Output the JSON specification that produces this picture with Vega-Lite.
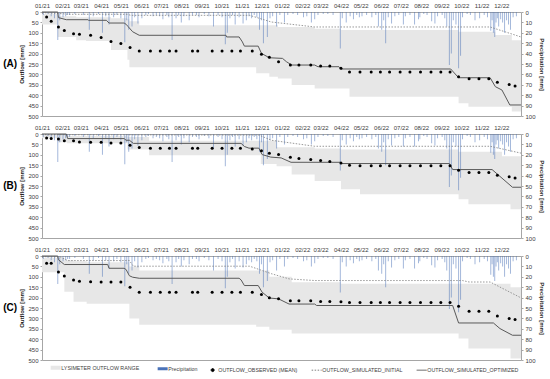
{
"$schema": "https://vega.github.io/schema/vega-lite/v6.json",
"padding": {"left": 2, "top": 1, "right": 0, "bottom": 0},
"spacing": 3,
"datasets": {
"precip": [
{"date":"2021-01-03","p":3},{"date":"2021-01-10","p":2},{"date":"2021-01-15","p":4},{"date":"2021-01-20","p":6},{"date":"2021-01-25","p":27},{"date":"2021-01-28","p":8},
{"date":"2021-02-02","p":5},{"date":"2021-02-06","p":4},{"date":"2021-02-09","p":3},{"date":"2021-02-12","p":3},{"date":"2021-02-20","p":2},
{"date":"2021-03-05","p":3},{"date":"2021-03-14","p":17},{"date":"2021-03-20","p":4},{"date":"2021-03-28","p":2},
{"date":"2021-04-03","p":20},{"date":"2021-04-08","p":4},{"date":"2021-04-13","p":12},{"date":"2021-04-20","p":5},{"date":"2021-04-25","p":3},
{"date":"2021-05-01","p":6},{"date":"2021-05-07","p":29},{"date":"2021-05-10","p":8},{"date":"2021-05-13","p":17},{"date":"2021-05-18","p":14},{"date":"2021-05-22","p":5},{"date":"2021-05-27","p":11},
{"date":"2021-06-02","p":6},{"date":"2021-06-08","p":3},{"date":"2021-06-12","p":2},{"date":"2021-06-19","p":4},{"date":"2021-06-24","p":3},{"date":"2021-06-29","p":4},
{"date":"2021-07-04","p":7},{"date":"2021-07-10","p":3},{"date":"2021-07-13","p":5},{"date":"2021-07-18","p":27},{"date":"2021-07-24","p":6},{"date":"2021-07-28","p":3},
{"date":"2021-08-01","p":10},{"date":"2021-08-05","p":4},{"date":"2021-08-13","p":8},{"date":"2021-08-18","p":3},{"date":"2021-08-24","p":3},{"date":"2021-08-28","p":5},
{"date":"2021-09-05","p":2},{"date":"2021-09-12","p":4},{"date":"2021-09-19","p":14},{"date":"2021-09-26","p":3},
{"date":"2021-10-02","p":5},{"date":"2021-10-07","p":31},{"date":"2021-10-10","p":20},{"date":"2021-10-14","p":6},{"date":"2021-10-18","p":3},{"date":"2021-10-22","p":12},{"date":"2021-10-28","p":5},
{"date":"2021-11-03","p":11},{"date":"2021-11-08","p":8},{"date":"2021-11-12","p":4},{"date":"2021-11-16","p":6},{"date":"2021-11-20","p":3},{"date":"2021-11-24","p":5},{"date":"2021-11-28","p":17},
{"date":"2021-12-01","p":8},{"date":"2021-12-04","p":30},{"date":"2021-12-10","p":24},{"date":"2021-12-14","p":6},{"date":"2021-12-18","p":4},{"date":"2021-12-24","p":14},{"date":"2021-12-29","p":3},
{"date":"2022-01-05","p":10},{"date":"2022-01-10","p":3},{"date":"2022-01-18","p":2},{"date":"2022-01-25","p":3},
{"date":"2022-02-03","p":5},{"date":"2022-02-08","p":4},{"date":"2022-02-15","p":10},{"date":"2022-02-20","p":7},{"date":"2022-02-25","p":3},
{"date":"2022-03-05","p":2},{"date":"2022-03-12","p":2},{"date":"2022-03-20","p":3},{"date":"2022-03-31","p":35},
{"date":"2022-04-03","p":6},{"date":"2022-04-09","p":10},{"date":"2022-04-15","p":4},{"date":"2022-04-20","p":7},{"date":"2022-04-25","p":3},{"date":"2022-04-29","p":5},
{"date":"2022-05-03","p":4},{"date":"2022-05-10","p":3},{"date":"2022-05-18","p":5},{"date":"2022-05-24","p":3},{"date":"2022-05-28","p":14},
{"date":"2022-06-02","p":17},{"date":"2022-06-05","p":8},{"date":"2022-06-08","p":30},{"date":"2022-06-12","p":5},{"date":"2022-06-17","p":11},{"date":"2022-06-22","p":4},{"date":"2022-06-28","p":3},
{"date":"2022-07-05","p":12},{"date":"2022-07-08","p":4},{"date":"2022-07-15","p":3},{"date":"2022-07-22","p":12},{"date":"2022-07-28","p":7},{"date":"2022-07-30","p":5},
{"date":"2022-08-05","p":2},{"date":"2022-08-10","p":3},{"date":"2022-08-17","p":9},{"date":"2022-08-22","p":11},{"date":"2022-08-26","p":4},
{"date":"2022-09-02","p":3},{"date":"2022-09-06","p":6},{"date":"2022-09-09","p":14},{"date":"2022-09-13","p":51},{"date":"2022-09-16","p":40},{"date":"2022-09-19","p":8},{"date":"2022-09-23","p":12},{"date":"2022-09-27","p":54},{"date":"2022-09-30","p":42},
{"date":"2022-10-03","p":5},{"date":"2022-10-10","p":2},{"date":"2022-10-15","p":3},{"date":"2022-10-22","p":8},{"date":"2022-10-29","p":6},
{"date":"2022-11-05","p":3},{"date":"2022-11-10","p":5},{"date":"2022-11-15","p":18},{"date":"2022-11-17","p":8},{"date":"2022-11-19","p":20},{"date":"2022-11-21","p":24},{"date":"2022-11-23","p":10},{"date":"2022-11-25","p":6},{"date":"2022-11-27","p":14},{"date":"2022-11-30","p":7},
{"date":"2022-12-03","p":10},{"date":"2022-12-06","p":20},{"date":"2022-12-09","p":8},{"date":"2022-12-12","p":12},{"date":"2022-12-15","p":17},{"date":"2022-12-19","p":5},{"date":"2022-12-24","p":4}
],
"obs": [
{"date":"2021-01-08","A":24,"B":19,"C":35},{"date":"2021-01-15","A":45,"B":22,"C":35},{"date":"2021-01-26","A":72,"B":24,"C":77},{"date":"2021-02-04","A":89,"B":32,"C":96},
{"date":"2021-02-18","A":105,"B":33,"C":115},{"date":"2021-02-27","A":107,"B":38,"C":121},{"date":"2021-03-16","A":112,"B":40,"C":124},{"date":"2021-04-01","A":123,"B":40,"C":125},
{"date":"2021-04-16","A":142,"B":43,"C":125},{"date":"2021-05-01","A":152,"B":43,"C":125},{"date":"2021-05-15","A":171,"B":54,"C":150},{"date":"2021-05-29","A":187,"B":65,"C":174},
{"date":"2021-06-15","A":187,"B":69,"C":174},{"date":"2021-06-30","A":187,"B":69,"C":174},{"date":"2021-07-14","A":187,"B":69,"C":174},{"date":"2021-07-24","A":187,"B":69,"C":174},
{"date":"2021-08-18","A":187,"B":69,"C":174},{"date":"2021-08-26","A":187,"B":69,"C":174},{"date":"2021-09-17","A":187,"B":69,"C":174},{"date":"2021-10-02","A":187,"B":69,"C":174},
{"date":"2021-10-17","A":187,"B":69,"C":174},{"date":"2021-10-30","A":187,"B":69,"C":174},{"date":"2021-11-17","A":187,"B":72,"C":174},{"date":"2021-12-01","A":203,"B":81,"C":185},
{"date":"2021-12-13","A":217,"B":92,"C":201},{"date":"2021-12-27","A":239,"B":99,"C":206},{"date":"2022-01-14","A":255,"B":112,"C":215},{"date":"2022-01-27","A":255,"B":118,"C":215},
{"date":"2022-02-14","A":255,"B":123,"C":215},{"date":"2022-03-01","A":260,"B":128,"C":219},{"date":"2022-03-15","A":260,"B":132,"C":219},{"date":"2022-04-01","A":271,"B":140,"C":220},
{"date":"2022-04-14","A":289,"B":150,"C":223},{"date":"2022-04-30","A":289,"B":153,"C":223},{"date":"2022-05-17","A":289,"B":153,"C":223},{"date":"2022-05-31","A":289,"B":153,"C":223},
{"date":"2022-06-14","A":289,"B":153,"C":223},{"date":"2022-06-30","A":289,"B":153,"C":223},{"date":"2022-07-15","A":289,"B":153,"C":223},{"date":"2022-07-31","A":289,"B":153,"C":223},
{"date":"2022-08-16","A":289,"B":153,"C":223},{"date":"2022-08-31","A":289,"B":153,"C":223},{"date":"2022-09-14","A":289,"B":153,"C":223},{"date":"2022-09-27","A":311,"B":174,"C":241},
{"date":"2022-10-13","A":321,"B":185,"C":266},{"date":"2022-10-28","A":321,"B":185,"C":266},{"date":"2022-11-12","A":321,"B":185,"C":266},{"date":"2022-11-25","A":338,"B":198,"C":289},
{"date":"2022-12-13","A":348,"B":206,"C":301},{"date":"2022-12-22","A":356,"B":211,"C":305}
],
"bandA": [
{"date":"2021-01-01","lo":10,"hi":60},{"date":"2021-01-25","lo":20,"hi":120},{"date":"2021-02-22","lo":25,"hi":136},{"date":"2021-03-09","lo":25,"hi":140},
{"date":"2021-04-16","lo":30,"hi":183},{"date":"2021-05-11","lo":35,"hi":230},{"date":"2021-05-14","lo":45,"hi":266},{"date":"2021-05-29","lo":64,"hi":266},
{"date":"2021-11-23","lo":64,"hi":295},{"date":"2021-12-13","lo":64,"hi":311},{"date":"2021-12-26","lo":72,"hi":320},{"date":"2022-01-16","lo":72,"hi":351},
{"date":"2022-02-20","lo":80,"hi":368},{"date":"2022-04-01","lo":87,"hi":368},{"date":"2022-04-14","lo":87,"hi":407},{"date":"2022-09-27","lo":95,"hi":439},
{"date":"2022-10-12","lo":95,"hi":455},{"date":"2022-11-22","lo":110,"hi":455},{"date":"2022-12-17","lo":136,"hi":478},{"date":"2022-12-31","lo":136,"hi":478}
],
"bandB": [
{"date":"2021-01-01","lo":0,"hi":20},{"date":"2021-01-25","lo":5,"hi":40},{"date":"2021-02-08","lo":10,"hi":45},{"date":"2021-05-11","lo":15,"hi":75},
{"date":"2021-06-13","lo":32,"hi":102},{"date":"2021-11-30","lo":32,"hi":144},{"date":"2021-12-24","lo":64,"hi":155},{"date":"2022-01-16","lo":64,"hi":195},
{"date":"2022-02-20","lo":70,"hi":226},{"date":"2022-04-01","lo":75,"hi":266},{"date":"2022-04-30","lo":75,"hi":290},{"date":"2022-09-27","lo":85,"hi":314},
{"date":"2022-10-12","lo":85,"hi":338},{"date":"2022-12-02","lo":107,"hi":338},{"date":"2022-12-15","lo":107,"hi":362},{"date":"2022-12-31","lo":107,"hi":362}
],
"bandC": [
{"date":"2021-01-01","lo":10,"hi":78},{"date":"2021-02-04","lo":20,"hi":172},{"date":"2021-02-18","lo":25,"hi":220},{"date":"2021-03-10","lo":30,"hi":230},{"date":"2021-05-14","lo":50,"hi":300},
{"date":"2021-05-29","lo":70,"hi":330},{"date":"2021-11-23","lo":70,"hi":340},{"date":"2021-12-13","lo":100,"hi":355},{"date":"2022-01-16","lo":126,"hi":373},
{"date":"2022-04-01","lo":134,"hi":373},{"date":"2022-09-27","lo":134,"hi":397},{"date":"2022-10-12","lo":134,"hi":445},{"date":"2022-12-15","lo":150,"hi":493},{"date":"2022-12-31","lo":150,"hi":493}
],
"optA": [
{"date":"2021-01-01","v":0},{"date":"2021-01-25","v":0},{"date":"2021-01-26","v":27},{"date":"2021-02-07","v":37},{"date":"2021-03-12","v":37},{"date":"2021-03-13","v":40},
{"date":"2021-04-09","v":40},{"date":"2021-04-13","v":53},{"date":"2021-05-06","v":53},{"date":"2021-05-09","v":59},{"date":"2021-05-12","v":70},{"date":"2021-05-19","v":95},
{"date":"2021-05-29","v":112},{"date":"2021-10-08","v":112},{"date":"2021-10-09","v":120},{"date":"2021-10-28","v":120},{"date":"2021-11-02","v":144},{"date":"2021-11-05","v":164},
{"date":"2021-11-26","v":164},{"date":"2021-12-01","v":199},{"date":"2021-12-13","v":220},{"date":"2022-01-02","v":223},{"date":"2022-01-08","v":239},{"date":"2022-01-16","v":255},
{"date":"2022-02-20","v":255},{"date":"2022-02-25","v":263},{"date":"2022-03-29","v":263},{"date":"2022-04-01","v":274},{"date":"2022-09-15","v":274},{"date":"2022-09-27","v":316},
{"date":"2022-11-14","v":316},{"date":"2022-11-22","v":359},{"date":"2022-12-02","v":375},{"date":"2022-12-14","v":447},{"date":"2022-12-31","v":447}
],
"iniA": [
{"date":"2021-01-01","v":3},{"date":"2021-01-31","v":8},{"date":"2021-02-10","v":11},{"date":"2021-05-11","v":11},{"date":"2021-05-16","v":16},{"date":"2021-11-13","v":16},
{"date":"2021-12-16","v":48},{"date":"2022-02-20","v":72},{"date":"2022-11-14","v":72},{"date":"2022-12-31","v":120}
],
"optB": [
{"date":"2021-01-01","v":0},{"date":"2021-02-07","v":0},{"date":"2021-02-09","v":22},{"date":"2021-05-06","v":22},{"date":"2021-05-09","v":30},{"date":"2021-05-14","v":30},
{"date":"2021-05-20","v":45},{"date":"2021-10-31","v":45},{"date":"2021-11-05","v":60},{"date":"2021-11-12","v":68},{"date":"2021-11-27","v":68},{"date":"2021-12-02","v":99},
{"date":"2021-12-15","v":111},{"date":"2021-12-31","v":115},{"date":"2022-01-15","v":136},{"date":"2022-03-30","v":136},{"date":"2022-04-01","v":142},{"date":"2022-09-13","v":142},
{"date":"2022-09-18","v":171},{"date":"2022-11-17","v":171},{"date":"2022-12-18","v":256},{"date":"2022-12-31","v":256}
],
"iniB": [
{"date":"2021-01-01","v":3},{"date":"2021-11-27","v":5},{"date":"2021-12-16","v":30},{"date":"2022-02-20","v":59},{"date":"2022-11-14","v":59},{"date":"2022-12-31","v":92}
],
"optC": [
{"date":"2021-01-01","v":0},{"date":"2021-01-25","v":0},{"date":"2021-01-26","v":18},{"date":"2021-02-04","v":41},{"date":"2021-04-11","v":41},{"date":"2021-04-13","v":59},
{"date":"2021-05-06","v":59},{"date":"2021-05-09","v":65},{"date":"2021-05-14","v":95},{"date":"2021-05-19","v":102},{"date":"2021-05-29","v":107},{"date":"2021-10-28","v":107},
{"date":"2021-10-31","v":115},{"date":"2021-11-05","v":142},{"date":"2021-11-26","v":142},{"date":"2021-12-02","v":174},{"date":"2021-12-13","v":202},{"date":"2021-12-27","v":206},
{"date":"2022-01-12","v":231},{"date":"2022-02-20","v":231},{"date":"2022-02-23","v":238},{"date":"2022-09-18","v":238},{"date":"2022-09-27","v":322},{"date":"2022-11-19","v":322},
{"date":"2022-11-29","v":349},{"date":"2022-12-18","v":381},{"date":"2022-12-31","v":381}
],
"iniC": [
{"date":"2021-01-01","v":3},{"date":"2021-01-29","v":5},{"date":"2021-02-09","v":22},{"date":"2021-05-14","v":22},{"date":"2021-05-20","v":49},{"date":"2021-11-13","v":49},
{"date":"2021-12-16","v":85},{"date":"2022-01-12","v":110},{"date":"2022-02-20","v":118},{"date":"2022-10-03","v":118},{"date":"2022-10-13","v":125},{"date":"2022-11-14","v":125},
{"date":"2022-12-29","v":198},{"date":"2022-12-31","v":198}
]
},
"vconcat": [
{
"width": 479, "height": 104,
"title": {"text": "(A)", "orient": "left", "angle": 0, "align": "right", "baseline": "middle", "fontSize": 10, "fontWeight": "bold", "anchor": "middle", "offset": -12, "color": "#000000"},
"encoding": {"x": {"field": "date", "type": "temporal", "scale": {"nice": false, "padding": 0, "domain": [{"year": 2021, "month": 1, "date": 1}, {"year": 2022, "month": 12, "date": 31}]}, "axis": {"orient": "top", "format": "%m/%y", "tickCount": {"interval": "month", "step": 1}, "title": null, "labelOverlap": false, "labelFlush": false, "ticks": false, "domain": false, "labelPadding": 4}}},
"layer": [
{"data": {"name": "bandA"}, "mark": {"type": "area", "interpolate": "step-after"},
 "encoding": {"y": {"field": "lo", "type": "quantitative", "scale": {"domain": [0, 500], "reverse": true}, "axis": {"values": [0,50,100,150,200,250,300,350,400,450,500], "title": "Outflow [mm]"}}, "y2": {"field": "hi"},
 "color": {"datum": "LYSIMETER OUTFLOW RANGE", "scale": {"domain": ["LYSIMETER OUTFLOW RANGE", "Precipitation", "OUTFLOW_OBSERVED (MEAN)", "OUTFLOW_SIMULATED_INITIAL", "OUTFLOW_SIMULATED_OPTIMIZED"], "range": ["#e7e7e7", "#4a72b8", "#000000", "#7f7f7f", "#595959"]},
  "legend": {"title": null, "orient": "none", "legendX": 11, "legendY": 353, "direction": "horizontal", "columns": 5, "columnPadding": 11, "labelFontSize": 5.3, "labelColor": "#404040", "labelOffset": 3,
   "encode": {"symbols": {"update": {
     "shape": {"signal": "datum.value === 'OUTFLOW_OBSERVED (MEAN)' ? 'circle' : 'stroke'"},
     "size": {"signal": "datum.value === 'OUTFLOW_OBSERVED (MEAN)' ? 9 : 100"},
     "stroke": {"signal": "datum.value === 'LYSIMETER OUTFLOW RANGE' ? '#e0e0e0' : datum.value === 'Precipitation' ? '#2f5597' : datum.value === 'OUTFLOW_OBSERVED (MEAN)' ? '#000000' : '#595959'"},
     "fill": {"signal": "datum.value === 'OUTFLOW_OBSERVED (MEAN)' ? '#000000' : 'transparent'"},
     "strokeWidth": {"signal": "datum.value === 'LYSIMETER OUTFLOW RANGE' ? 4 : datum.value === 'Precipitation' ? 3 : 1"},
     "strokeDash": {"signal": "datum.value === 'OUTFLOW_SIMULATED_INITIAL' ? [1.5,1.5] : [1,0]"},
     "opacity": {"value": 1}
   }}}}}}},
{"data": {"name": "precip"}, "mark": {"type": "bar", "width": 1, "opacity": 0.5},
 "encoding": {"y": {"field": "p", "type": "quantitative", "scale": {"domain": [0, 100], "reverse": true}, "axis": {"orient": "right", "values": [0,10,20,30,40,50,60,70,80,90,100], "title": "Precipitation [mm]"}}, "color": {"datum": "Precipitation"}}},
{"layer": [
 {"data": {"name": "iniA"}, "mark": {"type": "line", "strokeDash": [1.5, 1.5], "strokeWidth": 0.8}, "encoding": {"y": {"field": "v", "type": "quantitative", "scale": {"domain": [0, 500], "reverse": true}, "axis": null}, "color": {"datum": "OUTFLOW_SIMULATED_INITIAL"}}},
 {"data": {"name": "optA"}, "mark": {"type": "line", "strokeWidth": 1}, "encoding": {"y": {"field": "v", "type": "quantitative", "scale": {"domain": [0, 500], "reverse": true}, "axis": null}, "color": {"datum": "OUTFLOW_SIMULATED_OPTIMIZED"}}},
 {"data": {"name": "obs"}, "mark": {"type": "point", "filled": true, "size": 9, "opacity": 1}, "encoding": {"y": {"field": "A", "type": "quantitative", "scale": {"domain": [0, 500], "reverse": true}, "axis": null}, "color": {"datum": "OUTFLOW_OBSERVED (MEAN)"}}}
]}
],
"resolve": {"scale": {"y": "independent"}}
},
{
"width": 479, "height": 104,
"title": {"text": "(B)", "orient": "left", "angle": 0, "align": "right", "baseline": "middle", "fontSize": 10, "fontWeight": "bold", "anchor": "middle", "offset": -12, "color": "#000000"},
"encoding": {"x": {"field": "date", "type": "temporal", "scale": {"nice": false, "padding": 0, "domain": [{"year": 2021, "month": 1, "date": 1}, {"year": 2022, "month": 12, "date": 31}]}, "axis": {"orient": "top", "format": "%m/%y", "tickCount": {"interval": "month", "step": 1}, "title": null, "labelOverlap": false, "labelFlush": false, "ticks": false, "domain": false, "labelPadding": 4}}},
"layer": [
{"data": {"name": "bandB"}, "mark": {"type": "area", "interpolate": "step-after"},
 "encoding": {"y": {"field": "lo", "type": "quantitative", "scale": {"domain": [0, 500], "reverse": true}, "axis": {"values": [0,50,100,150,200,250,300,350,400,450,500], "title": "Outflow [mm]"}}, "y2": {"field": "hi"}, "color": {"datum": "LYSIMETER OUTFLOW RANGE"}}},
{"data": {"name": "precip"}, "mark": {"type": "bar", "width": 1, "opacity": 0.5},
 "encoding": {"y": {"field": "p", "type": "quantitative", "scale": {"domain": [0, 100], "reverse": true}, "axis": {"orient": "right", "values": [0,10,20,30,40,50,60,70,80,90,100], "title": "Precipitation [mm]"}}, "color": {"datum": "Precipitation"}}},
{"layer": [
 {"data": {"name": "iniB"}, "mark": {"type": "line", "strokeDash": [1.5, 1.5], "strokeWidth": 0.8}, "encoding": {"y": {"field": "v", "type": "quantitative", "scale": {"domain": [0, 500], "reverse": true}, "axis": null}, "color": {"datum": "OUTFLOW_SIMULATED_INITIAL"}}},
 {"data": {"name": "optB"}, "mark": {"type": "line", "strokeWidth": 1}, "encoding": {"y": {"field": "v", "type": "quantitative", "scale": {"domain": [0, 500], "reverse": true}, "axis": null}, "color": {"datum": "OUTFLOW_SIMULATED_OPTIMIZED"}}},
 {"data": {"name": "obs"}, "mark": {"type": "point", "filled": true, "size": 9, "opacity": 1}, "encoding": {"y": {"field": "B", "type": "quantitative", "scale": {"domain": [0, 500], "reverse": true}, "axis": null}, "color": {"datum": "OUTFLOW_OBSERVED (MEAN)"}}}
]}
],
"resolve": {"scale": {"y": "independent"}}
},
{
"width": 479, "height": 104,
"title": {"text": "(C)", "orient": "left", "angle": 0, "align": "right", "baseline": "middle", "fontSize": 10, "fontWeight": "bold", "anchor": "middle", "offset": -12, "color": "#000000"},
"encoding": {"x": {"field": "date", "type": "temporal", "scale": {"nice": false, "padding": 0, "domain": [{"year": 2021, "month": 1, "date": 1}, {"year": 2022, "month": 12, "date": 31}]}, "axis": {"orient": "top", "format": "%m/%y", "tickCount": {"interval": "month", "step": 1}, "title": null, "labelOverlap": false, "labelFlush": false, "ticks": false, "domain": false, "labelPadding": 4}}},
"layer": [
{"data": {"name": "bandC"}, "mark": {"type": "area", "interpolate": "step-after"},
 "encoding": {"y": {"field": "lo", "type": "quantitative", "scale": {"domain": [0, 500], "reverse": true}, "axis": {"values": [0,50,100,150,200,250,300,350,400,450,500], "title": "Outflow [mm]"}}, "y2": {"field": "hi"}, "color": {"datum": "LYSIMETER OUTFLOW RANGE"}}},
{"data": {"name": "precip"}, "mark": {"type": "bar", "width": 1, "opacity": 0.5},
 "encoding": {"y": {"field": "p", "type": "quantitative", "scale": {"domain": [0, 100], "reverse": true}, "axis": {"orient": "right", "values": [0,10,20,30,40,50,60,70,80,90,100], "title": "Precipitation [mm]"}}, "color": {"datum": "Precipitation"}}},
{"layer": [
 {"data": {"name": "iniC"}, "mark": {"type": "line", "strokeDash": [1.5, 1.5], "strokeWidth": 0.8}, "encoding": {"y": {"field": "v", "type": "quantitative", "scale": {"domain": [0, 500], "reverse": true}, "axis": null}, "color": {"datum": "OUTFLOW_SIMULATED_INITIAL"}}},
 {"data": {"name": "optC"}, "mark": {"type": "line", "strokeWidth": 1}, "encoding": {"y": {"field": "v", "type": "quantitative", "scale": {"domain": [0, 500], "reverse": true}, "axis": null}, "color": {"datum": "OUTFLOW_SIMULATED_OPTIMIZED"}}},
 {"data": {"name": "obs"}, "mark": {"type": "point", "filled": true, "size": 9, "opacity": 1}, "encoding": {"y": {"field": "C", "type": "quantitative", "scale": {"domain": [0, 500], "reverse": true}, "axis": null}, "color": {"datum": "OUTFLOW_OBSERVED (MEAN)"}}}
]}
],
"resolve": {"scale": {"y": "independent"}}
}
],
"config": {
 "font": "Liberation Sans",
 "view": {"stroke": "#a6a6a6", "strokeWidth": 1},
 "axis": {"grid": false, "labelFontSize": 6, "labelColor": "#404040", "titleFontSize": 6, "titleFontWeight": "bold", "titleColor": "#262626", "domain": false, "tickColor": "#a6a6a6", "tickSize": 2, "labelPadding": 2, "titlePadding": 3},
 "legend": {"labelFont": "Liberation Sans"}
}
}
